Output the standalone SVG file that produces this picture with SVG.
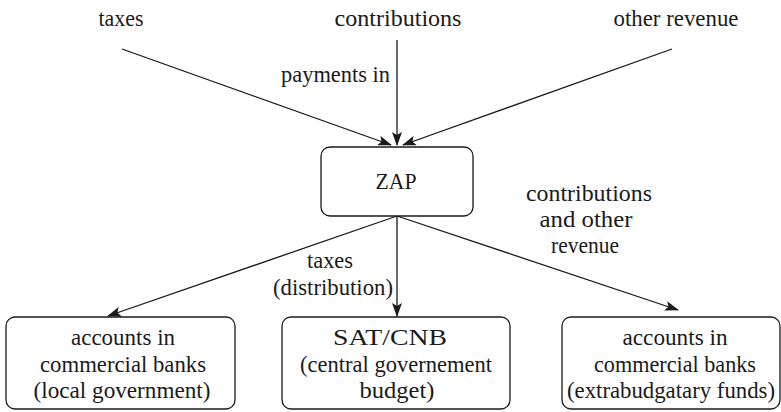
<svg xmlns="http://www.w3.org/2000/svg" width="781" height="412" viewBox="0 0 781 412">
<defs>
<marker id="ah" markerWidth="14" markerHeight="10" refX="13" refY="5" orient="auto" markerUnits="userSpaceOnUse">
<path d="M0,0 L14,5 L0,10 L3,5 Z" fill="#1a1a1a"/>
</marker>
</defs>
<style>
.t{font-family:"Liberation Serif","DejaVu Serif","Noto Serif","Times New Roman",serif;font-size:23px;fill:#1a1a1a;text-anchor:middle}
.box{fill:#fff;stroke:#1a1a1a;stroke-width:1.3}
.ln{stroke:#1a1a1a;stroke-width:1.3;fill:none;marker-end:url(#ah)}
</style>
<rect width="781" height="412" fill="#fff"/>
<g id="src-taxes"><text class="t" x="121" y="26" textLength="45" lengthAdjust="spacingAndGlyphs">taxes</text></g>
<g id="src-contributions"><text class="t" x="398" y="26" textLength="127" lengthAdjust="spacingAndGlyphs">contributions</text></g>
<g id="src-other"><text class="t" x="676" y="26" textLength="125" lengthAdjust="spacingAndGlyphs">other revenue</text></g>
<g id="connectors">
<line class="ln" x1="122" y1="49" x2="391" y2="145"/>
<line class="ln" x1="397" y1="40" x2="397" y2="145"/>
<line class="ln" x1="672" y1="49" x2="403" y2="145"/>
<line class="ln" x1="397" y1="216" x2="108" y2="316"/>
<line class="ln" x1="397" y1="216" x2="397" y2="316"/>
<line class="ln" x1="397" y1="216" x2="678" y2="310"/>
<text class="t" x="335.5" y="82" textLength="109" lengthAdjust="spacingAndGlyphs">payments in</text>
<text class="t" x="330" y="268" textLength="46" lengthAdjust="spacingAndGlyphs">taxes</text>
<text class="t" x="333" y="295" textLength="120" lengthAdjust="spacingAndGlyphs">(distribution)</text>
<text class="t" x="589" y="201" textLength="126" lengthAdjust="spacingAndGlyphs">contributions</text>
<text class="t" x="586" y="227" textLength="93" lengthAdjust="spacingAndGlyphs">and other</text>
<text class="t" x="585" y="253" textLength="68" lengthAdjust="spacingAndGlyphs">revenue</text>
</g>
<g id="zap">
<rect class="box" x="321" y="147" width="152" height="69" rx="9"/>
<text class="t" x="396" y="189" textLength="41" lengthAdjust="spacingAndGlyphs">ZAP</text>
</g>
<g id="local">
<rect class="box" x="6" y="317" width="229" height="92" rx="9"/>
<text class="t" x="123" y="345" textLength="104" lengthAdjust="spacingAndGlyphs">accounts in</text>
<text class="t" x="123" y="372" textLength="166" lengthAdjust="spacingAndGlyphs">commercial banks</text>
<text class="t" x="122" y="398" textLength="177" lengthAdjust="spacingAndGlyphs">(local government)</text>
</g>
<g id="central">
<rect class="box" x="282" y="317" width="228" height="92" rx="9"/>
<text class="t" x="390" y="345" textLength="114" lengthAdjust="spacingAndGlyphs">SAT/CNB</text>
<text class="t" x="396" y="372" textLength="192" lengthAdjust="spacingAndGlyphs">(central governement</text>
<text class="t" x="397" y="398" textLength="75" lengthAdjust="spacingAndGlyphs">budget)</text>
</g>
<g id="extra">
<rect class="box" x="562" y="317" width="218" height="92" rx="9"/>
<text class="t" x="675" y="345" textLength="105" lengthAdjust="spacingAndGlyphs">accounts in</text>
<text class="t" x="675" y="372" textLength="162" lengthAdjust="spacingAndGlyphs">commercial banks</text>
<text class="t" x="671" y="398" textLength="208" lengthAdjust="spacingAndGlyphs">(extrabudgatary funds)</text>
</g>
</svg>
